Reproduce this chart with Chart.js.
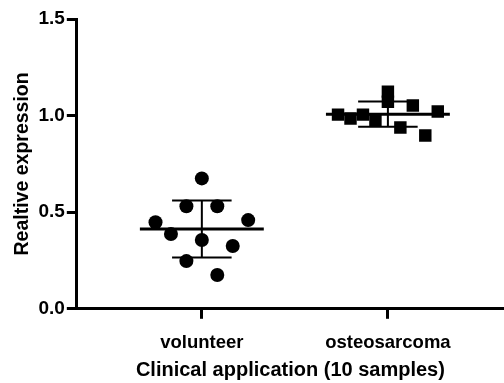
<!DOCTYPE html>
<html>
<head>
<meta charset="utf-8">
<script src="https://cdn.jsdelivr.net/npm/chart.js@4/dist/chart.umd.min.js"></script>
<style>
  html, body { margin: 0; padding: 0; background: #fff; overflow: hidden; }
  #wrap { width: 504px; height: 383px; }
  canvas { display: block; }
</style>
</head>
<body>
<div id="wrap"><canvas id="dotChart"></canvas></div>
<script>
const categories = ['volunteer', 'osteosarcoma'];
const volunteerValues = [0.675, 0.531, 0.531, 0.448, 0.459, 0.387, 0.356, 0.325, 0.247, 0.175];
const volunteerOffsets = [0, -1, 1, -3, 3, -2, 0, 2, -1, 1];
const osteoValues = [1.005, 0.985, 1.005, 0.974, 1.124, 1.072, 0.938, 1.052, 0.897, 1.021];
const osteoOffsets = [-4, -3, -2, -1, 0, 0, 1, 2, 3, 4];
const yTicks = [0, 0.5, 1.0, 1.5];

function toPoints(values, offsets, idx, step) {
    return values.map((v, i) => ({ x: idx + 1 + offsets[i] * step, y: v }));
}
function meanSd(values) {
    const m = values.reduce((a, b) => a + b, 0) / values.length;
    const s = Math.sqrt(values.reduce((a, b) => a + (b - m) * (b - m), 0) / (values.length - 1));
    return { m, s };
}

// mean line + SD whiskers
const errorBars = {
    id: 'errorBars',
    afterDatasetsDraw(chart) {
        const { ctx, scales: { x, y } } = chart;
        [volunteerValues, osteoValues].forEach((vals, i) => {
            const { m, s } = meanSd(vals);
            const cx = x.getPixelForValue(i + 1);
            const half = x.getPixelForValue(i + 1 + 0.333) - cx;
            const cap = x.getPixelForValue(i + 1 + 0.16) - cx;
            ctx.save();
            ctx.strokeStyle = '#000';
            ctx.lineWidth = 3;
            ctx.beginPath();
            ctx.moveTo(cx - half, y.getPixelForValue(m));
            ctx.lineTo(cx + half, y.getPixelForValue(m));
            ctx.stroke();
            ctx.lineWidth = 2;
            ctx.beginPath();
            ctx.moveTo(cx, y.getPixelForValue(m + s));
            ctx.lineTo(cx, y.getPixelForValue(m - s));
            ctx.moveTo(cx - cap, y.getPixelForValue(m + s));
            ctx.lineTo(cx + cap, y.getPixelForValue(m + s));
            ctx.moveTo(cx - cap, y.getPixelForValue(m - s));
            ctx.lineTo(cx + cap, y.getPixelForValue(m - s));
            ctx.stroke();
            ctx.restore();
        });
    }
};

const ctx = document.getElementById('dotChart').getContext('2d');
const dotChart = new Chart(ctx, {
    type: 'scatter',
    data: {
        datasets: [{
            label: categories[0],
            data: toPoints(volunteerValues, volunteerOffsets, 0, 0.083),
            pointStyle: 'circle',
            pointRadius: 7,
            backgroundColor: '#000',
            borderColor: '#000',
            borderWidth: 0
        }, {
            label: categories[1],
            data: toPoints(osteoValues, osteoOffsets, 1, 0.067),
            pointStyle: 'rect',
            pointRadius: 8.8,
            backgroundColor: '#000',
            borderColor: '#000',
            borderWidth: 0
        }]
    },
    options: {
        responsive: true,
        maintainAspectRatio: false,
        animation: false,
        layout: { autoPadding: false, padding: { top: 19, left: 11, right: 0, bottom: 1 } },
        plugins: {
            legend: { display: false },
            tooltip: { enabled: false }
        },
        scales: {
            x: {
                type: 'linear',
                min: 0.328,
                max: 2.624,
                afterBuildTicks: (scale) => { scale.ticks = categories.map((c, i) => ({ value: i + 1 })); },
                ticks: {
                    callback: (v) => categories[v - 1],
                    color: '#000',
                    font: { family: 'Liberation Sans', size: 18.5, weight: 'bold' },
                    padding: 13,
                    maxRotation: 0,
                    autoSkip: false
                },
                grid: { drawOnChartArea: false, tickLength: 10, tickWidth: 3, tickColor: '#000' },
                border: { color: '#000', width: 3 },
                title: {
                    display: true,
                    text: 'Clinical application (10 samples)',
                    color: '#000',
                    font: { family: 'Liberation Sans', size: 20, weight: 'bold' },
                    padding: { top: -9, bottom: 0 }
                }
            },
            y: {
                min: 0,
                max: 1.5,
                afterBuildTicks: (scale) => { scale.ticks = yTicks.map(v => ({ value: v })); },
                ticks: {
                    callback: (v) => v.toFixed(1),
                    color: '#000',
                    font: { family: 'Liberation Sans', size: 19, weight: 'bold' },
                    padding: 2
                },
                grid: { drawOnChartArea: false, tickLength: 10, tickWidth: 3, tickColor: '#000' },
                border: { color: '#000', width: 3 },
                title: {
                    display: true,
                    text: 'Realtive expression',
                    color: '#000',
                    font: { family: 'Liberation Sans', size: 19.5, weight: 'bold' },
                    padding: { top: 0, bottom: 2 }
                }
            }
        }
    },
    plugins: [errorBars]
});
</script>
</body>
</html>
